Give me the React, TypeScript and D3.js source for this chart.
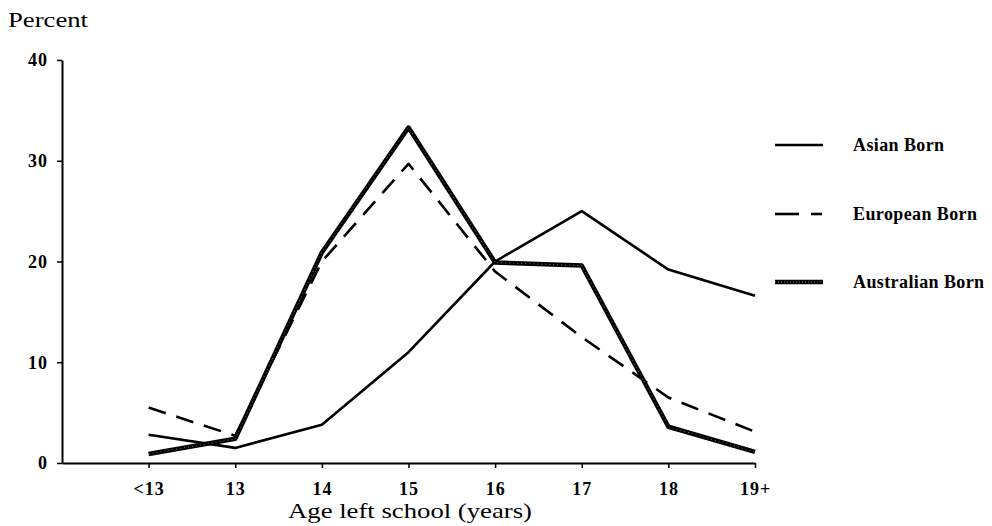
import * as React from "react"
import * as d3 from "d3"

const categories = ["<13", "13", "14", "15", "16", "17", "18", "19+"]
const asianBorn = [2.8, 1.5, 3.8, 11, 20, 25, 19.2, 16.6]
const europeanBorn = [5.5, 2.7, 20, 29.7, 19, 12.5, 6.5, 3.1]
const australianBorn = [0.9, 2.4, 20.9, 33.3, 19.9, 19.6, 3.6, 1.1]
const yTicks = [0, 10, 20, 30, 40]

const series = [
  { name: "Asian Born", values: asianBorn, kind: "solid" },
  { name: "European Born", values: europeanBorn, kind: "dashed" },
  { name: "Australian Born", values: australianBorn, kind: "thick" },
]

const width = 992
const height = 526
const margin = { top: 60, right: 237, bottom: 63, left: 62 }
const font = "'Liberation Serif', 'DejaVu Serif', serif"

export default function App() {
  const svgRef = React.useRef<SVGSVGElement>(null)

  React.useEffect(() => {
    if (!svgRef.current) return
    const svg = d3.select(svgRef.current)
    svg.selectAll("*").remove()

    const innerWidth = width - margin.left - margin.right
    const innerHeight = height - margin.top - margin.bottom

    // first category sits one step in from the y axis, last one at the axis end
    const x = d3
      .scaleLinear()
      .domain([-1, categories.length - 1])
      .range([0, innerWidth])

    const y = d3.scaleLinear().domain([0, 40]).range([innerHeight, 0])

    const g = svg
      .append("g")
      .attr("transform", `translate(${margin.left},${margin.top})`)

    // y axis
    const yAxis = g
      .append("g")
      .call(
        d3
          .axisLeft(y)
          .tickValues(yTicks)
          .tickSize(5)
          .tickSizeOuter(0)
          .tickPadding(9)
      )
    yAxis.select(".domain").attr("stroke", "#000").attr("stroke-width", 2)
    yAxis.selectAll(".tick line").attr("stroke", "#000").attr("stroke-width", 1.5)
    yAxis
      .selectAll(".tick text")
      .attr("fill", "#000")
      .style("font-family", font)
      .style("font-size", "18px")
      .style("font-weight", "bold")
      .style("letter-spacing", "1px")

    // x axis
    const xAxis = g
      .append("g")
      .attr("transform", `translate(0,${innerHeight})`)
      .call(
        d3
          .axisBottom(x)
          .tickValues(d3.range(categories.length))
          .tickFormat((d) => categories[d as number])
          .tickSize(5)
          .tickSizeOuter(0)
          .tickPadding(14)
      )
    xAxis.select(".domain").attr("stroke", "#000").attr("stroke-width", 2)
    xAxis.selectAll(".tick line").attr("stroke", "#000").attr("stroke-width", 1.5)
    xAxis
      .selectAll(".tick text")
      .attr("fill", "#000")
      .style("font-family", font)
      .style("font-size", "18px")
      .style("font-weight", "bold")
      .style("letter-spacing", "1px")

    const line = d3
      .line<number>()
      .x((_, i) => x(i))
      .y((d) => y(d))

    series.forEach((s) => {
      const path = g
        .append("path")
        .datum(s.values)
        .attr("fill", "none")
        .attr("stroke", "#000")
        .attr("stroke-linejoin", "round")
        .attr("d", line)
      if (s.kind === "solid") path.attr("stroke-width", 2.6)
      if (s.kind === "dashed")
        path.attr("stroke-width", 2.6).attr("stroke-dasharray", "18 11")
      if (s.kind === "thick") {
        path.attr("stroke-width", 4.5)
        g.append("path")
          .datum(s.values)
          .attr("fill", "none")
          .attr("stroke", "#777")
          .attr("stroke-width", 1)
          .attr("stroke-dasharray", "1 3")
          .attr("d", line)
      }
    })

    // legend
    const legend = svg.append("g").attr("transform", "translate(775,0)")
    const legendY = [145, 214, 282]
    series.forEach((s, i) => {
      const ly = legendY[i]
      if (s.kind === "solid") {
        legend.append("line").attr("x1", 0).attr("x2", 48).attr("y1", ly).attr("y2", ly)
          .attr("stroke", "#000").attr("stroke-width", 2.6)
      }
      if (s.kind === "dashed") {
        legend.append("line").attr("x1", 0).attr("x2", 24).attr("y1", ly).attr("y2", ly)
          .attr("stroke", "#000").attr("stroke-width", 2.6)
        legend.append("line").attr("x1", 36).attr("x2", 47).attr("y1", ly).attr("y2", ly)
          .attr("stroke", "#000").attr("stroke-width", 2.6)
      }
      if (s.kind === "thick") {
        legend.append("line").attr("x1", 0).attr("x2", 48).attr("y1", ly).attr("y2", ly)
          .attr("stroke", "#000").attr("stroke-width", 4.5)
        legend.append("line").attr("x1", 0).attr("x2", 48).attr("y1", ly).attr("y2", ly)
          .attr("stroke", "#777").attr("stroke-width", 1).attr("stroke-dasharray", "1 2")
      }
      legend
        .append("text")
        .attr("x", 78)
        .attr("y", ly + 6)
        .attr("fill", "#000")
        .style("font-family", font)
        .style("font-size", "18px")
        .style("font-weight", "bold")
        .style("letter-spacing", "0.4px")
        .text(s.name)
    })

    // titles
    svg
      .append("text")
      .attr("x", 8)
      .attr("y", 27)
      .attr("fill", "#000")
      .style("font-family", font)
      .style("font-size", "21px")
      .attr("textLength", 80)
      .attr("lengthAdjust", "spacingAndGlyphs")
      .text("Percent")

    svg
      .append("text")
      .attr("x", 288)
      .attr("y", 518)
      .attr("fill", "#000")
      .style("font-family", font)
      .style("font-size", "22px")
      .attr("textLength", 244)
      .attr("lengthAdjust", "spacingAndGlyphs")
      .text("Age left school (years)")

    return () => {
      svg.selectAll("*").remove()
    }
  }, [])

  return (
    <svg
      ref={svgRef}
      width={width}
      height={height}
      viewBox={`0 0 ${width} ${height}`}
      style={{ position: "absolute", left: 0, top: 0, background: "#fff" }}
    />
  )
}
